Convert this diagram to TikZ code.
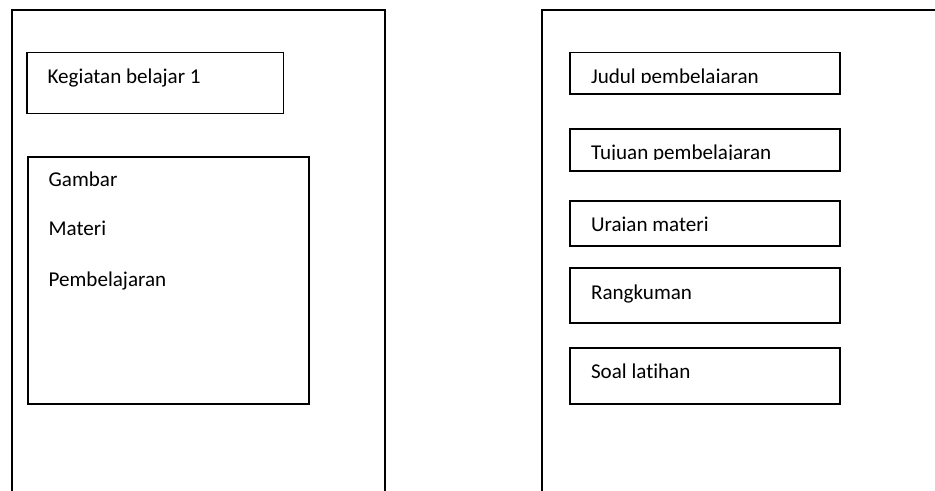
\documentclass[tikz,border=0pt]{standalone}
\usepackage{fontspec}
\setmainfont{Carlito}[Ligatures={NoCommon,NoRequired,NoContextual}]
\begin{document}
\begin{tikzpicture}[
    page/.style={line width=1pt},
    box/.style={draw, line width=1pt, rectangle, anchor=north west, inner sep=0pt},
    label/.style={anchor=base west, inner sep=0pt, font=\fontsize{12}{14}\selectfont}
]
    \useasboundingbox (0,0) rectangle (18.7,9.82);

    % Left page (open at the bottom)
    \draw[page] (0.236,0) -- (0.236,9.62) -- (7.70,9.62) -- (7.70,0);

    % Title box
    \node[box, minimum width=5.133cm, minimum height=1.22cm] (kegiatan) at (0.52,8.787) {};
    \node[label] (kegiatanlbl) at (0.946,8.14) {Kegiatan belajar 1};

    % Content box
    \node[box, minimum width=5.62cm, minimum height=4.94cm] (isi) at (0.54,6.70) {};
    \node[label] (gambar) at (0.966,6.087) {Gambar};
    \node[label] (materi) at (0.966,5.10) {Materi};
    \node[label] (pembelajaran) at (0.966,4.087) {Pembelajaran};

    % Right page (open at the bottom and right)
    \draw[page] (10.84,0) -- (10.84,9.62) -- (18.7,9.62);

    % Judul pembelajaran
    \node[box, minimum width=5.393cm, minimum height=0.834cm] (judul) at (11.387,8.787) {};
    \begin{scope}
        \clip (11.4,8.17) rectangle (16.7,8.7);
        \node[label] (judullbl) at (11.814,8.153) {Judul pembelajaran};
    \end{scope}

    % Tujuan pembelajaran
    \node[box, minimum width=5.393cm, minimum height=0.84cm] (tujuan) at (11.387,7.26) {};
    \begin{scope}
        \clip (11.4,6.63) rectangle (16.7,7.2);
        \node[label] (tujuanlbl) at (11.814,6.62) {Tujuan pembelajaran};
    \end{scope}

    % Uraian materi
    \node[box, minimum width=5.393cm, minimum height=0.90cm] (uraian) at (11.387,5.82) {};
    \node[label] (uraianlbl) at (11.814,5.186) {Uraian materi};

    % Rangkuman
    \node[box, minimum width=5.393cm, minimum height=1.10cm] (rangkuman) at (11.387,4.48) {};
    \node[label] (rangkumanlbl) at (11.814,3.834) {Rangkuman};

    % Soal latihan
    \node[box, minimum width=5.393cm, minimum height=1.12cm] (soal) at (11.387,2.88) {};
    \node[label] (soallbl) at (11.814,2.254) {Soal latihan};

\end{tikzpicture}
\end{document}
